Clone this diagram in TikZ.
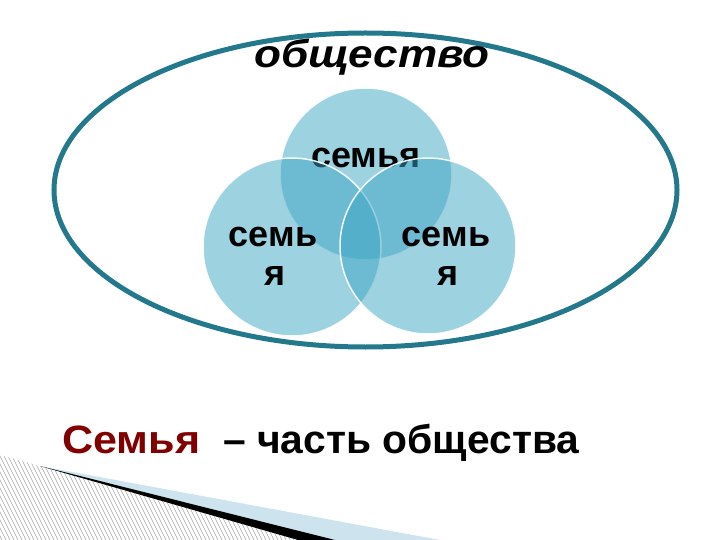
\documentclass[tikz,border=0pt]{standalone}
\usepackage{fontspec}
\setmainfont{Liberation Sans}
\definecolor{ellcol}{RGB}{35,120,140}
\definecolor{circfill}{RGB}{60,165,195}
\definecolor{darkred}{RGB}{128,0,0}
\definecolor{bandblue}{RGB}{205,228,238}
\tikzset{
  famcirc/.style={circle, fill=circfill, fill opacity=0.5, draw=white, draw opacity=0.9, line width=1.5pt, inner sep=0pt},
  famtext/.style={font=\fontsize{36}{40}\selectfont\bfseries, anchor=base, text=black, inner sep=0pt},
  hatchline/.style={draw=gray!70, line width=0.6pt}
}
\begin{document}
\begin{tikzpicture}[x=1pt,y=-1pt]
\useasboundingbox (0,0) rectangle (720,540);
% society ellipse
\draw[ellcol, line width=5pt] (365.5,190) ellipse [x radius=311.5, y radius=157];
\node[anchor=base, font=\fontsize{39}{44}\selectfont\bfseries\itshape, inner sep=0pt] (title) at (372,68) {\scalebox{1.13}[1]{общество}};
% circles
\node[famcirc, minimum size=172pt] (top) at (366,174) {};
\node[famtext] (toptext) at (366,168) {семья};
\node[famcirc, minimum size=178pt] (left) at (292,247) {};
\node[famtext] (lefttext1) at (273,247) {семь};
\node[famtext] (lefttext2) at (275,285) {я};
\node[famcirc, minimum size=176pt] (right) at (428,246) {};
\node[famtext] (righttext1) at (446,247) {семь};
\node[famtext] (righttext2) at (448,285) {я};
% bottom text
\node[anchor=base west, font=\fontsize{39.5}{44}\selectfont\bfseries, text=darkred, inner sep=0pt] (fam) at (62,453) {\scalebox{1.09}[1]{Семья}};
\node[anchor=base west, font=\fontsize{40}{44}\selectfont\bfseries, inner sep=0pt] (part) at (223,453) {\scalebox{1.02}[1]{– часть общества}};
% bottom-left decoration
\fill[bandblue] (40,466) -- (440,540) -- (300,540) -- cycle;
\begin{scope}
  \clip (0,455) -- (40,466) -- (310,540) -- (0,540) -- cycle;
  \foreach \i in {-60,-56,...,320} {
    \draw[hatchline] (\i,440) -- (\i+50,540);
  }
\end{scope}
\fill[black] (40,466) -- (335,540) -- (298,540) -- cycle;
\end{tikzpicture}
\end{document}
